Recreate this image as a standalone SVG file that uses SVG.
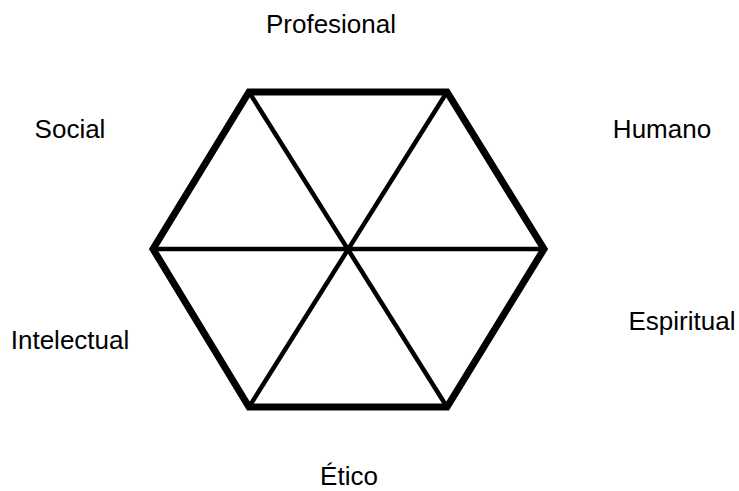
<svg xmlns="http://www.w3.org/2000/svg" width="739" height="491" viewBox="0 0 739 491">
<style>
.lbl{font-family:"Liberation Sans",Arial,sans-serif;font-size:26px;fill:#000;text-anchor:middle}
.thick{fill:none;stroke:#000;stroke-width:7;stroke-linejoin:miter}
.thin{stroke:#000;stroke-width:4.5;fill:none}
</style>
<rect width="739" height="491" fill="#fff"/>
<g id="connectors">
<polygon class="thick" points="249,92 447,92 544,249 447,407 249,407 153,249"/>
<line class="thin" x1="153" y1="249" x2="544" y2="249"/>
<line class="thin" x1="249" y1="92" x2="447" y2="407"/>
<line class="thin" x1="447" y1="92" x2="249" y2="407"/>
</g>
<g id="profesional"><text class="lbl" x="331" y="33">Profesional</text></g>
<g id="social"><text class="lbl" x="70" y="138">Social</text></g>
<g id="humano"><text class="lbl" x="662" y="138">Humano</text></g>
<g id="intelectual"><text class="lbl" x="70" y="349">Intelectual</text></g>
<g id="espiritual"><text class="lbl" x="682" y="330">Espiritual</text></g>
<g id="etico"><text class="lbl" x="349" y="485">Ético</text></g>
</svg>
